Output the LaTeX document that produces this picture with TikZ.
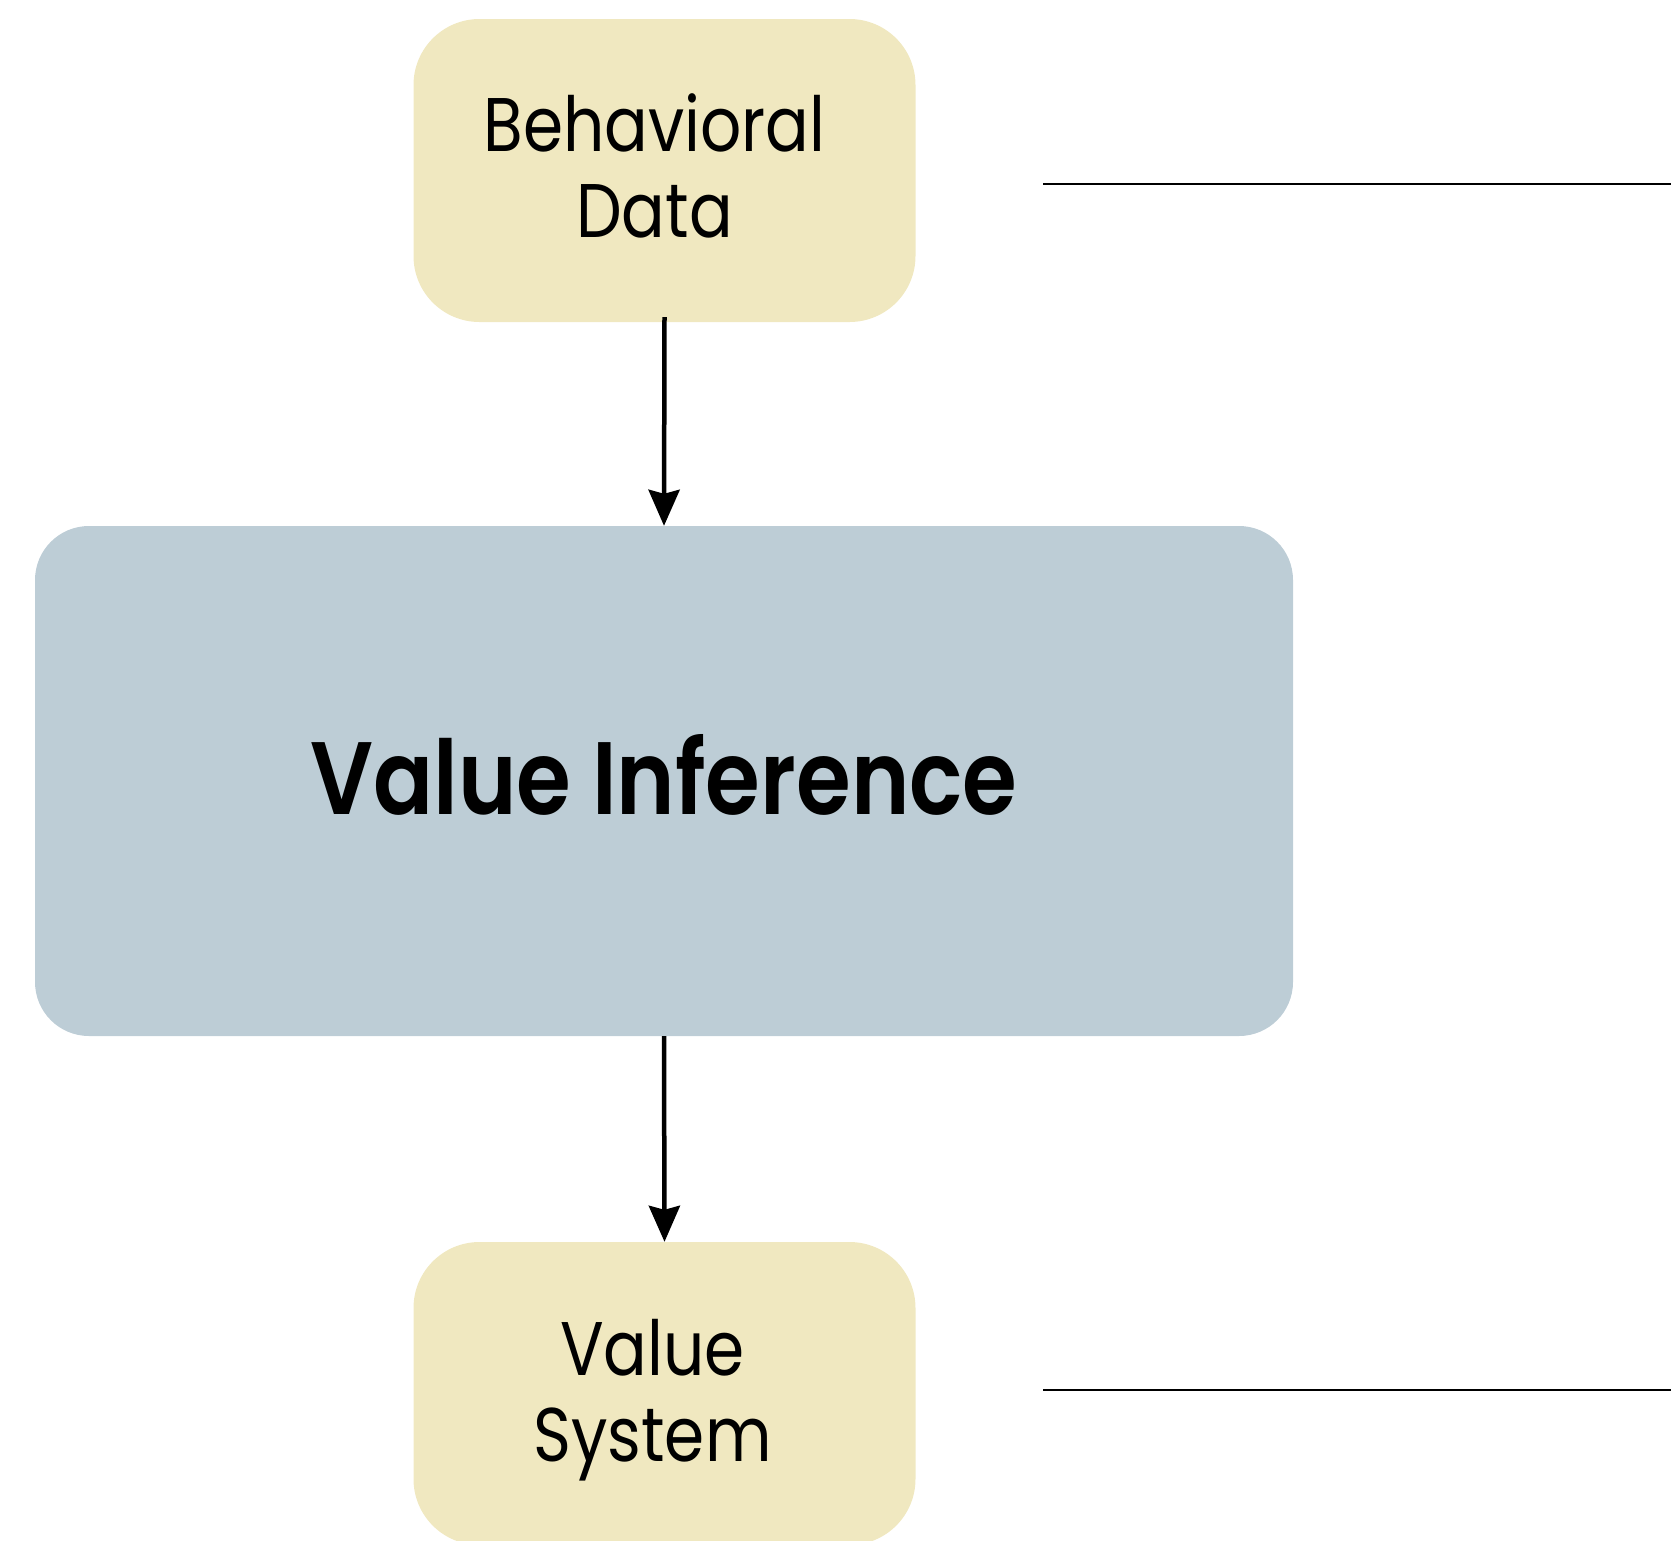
\documentclass[tikz,border=0pt]{standalone}
\usepackage{fontspec}
\setmainfont{Poppins}
\newfontfamily\boxfont[FakeStretch=0.85]{Poppins}
\newfontfamily\boldfont[FakeStretch=0.86]{Poppins SemiBold}
\usetikzlibrary{arrows.meta}
\definecolor{beige}{RGB}{240,232,192}
\definecolor{slate}{RGB}{189,205,214}
\tikzset{
  smallbox/.style={fill=beige, draw=none, rounded corners=66pt, minimum width=502pt, minimum height=303pt, inner sep=0pt},
  bigbox/.style={fill=slate, draw=none, rounded corners=54pt, minimum width=1258pt, minimum height=510pt, inner sep=0pt},
  boxtext/.style={inner sep=0pt, align=center, font=\boxfont\fontsize{76}{86}\selectfont},
  bigtext/.style={inner sep=0pt, align=center, font=\boldfont\fontsize{103}{120}\selectfont},
  flow/.style={line width=4.5pt, -{Stealth[length=36pt,width=31pt,inset=4pt]}},
  rule/.style={line width=2.8pt}
}
\begin{document}
\begin{tikzpicture}[x=1pt,y=-1pt]
\useasboundingbox (0,0) rectangle (1671,1540);
\node[smallbox] (bd) at (664.5,170.5) {};
\node[bigbox] (vi) at (664,781) {};
\node[smallbox] (vs) at (664.5,1393.5) {};
\node[boxtext] (bdt) at ([xshift=-10pt,yshift=5pt]bd.center) {Behavioral\\Data};
\node[bigtext] (vit) at ([yshift=6pt]vi.center) {Value Inference};
\node[boxtext] (vst) at ([xshift=-12pt,yshift=-7pt]vs.center) {Value\\System};
\draw[flow] ([yshift=5pt]bd.south) -- (vi.north);
\draw[flow] (vi.south) -- (vs.north);
\coordinate (t1) at (1043,184);
\coordinate (t2) at (1671,184);
\coordinate (b1) at (1043,1390);
\coordinate (b2) at (1671,1390);
\draw[rule] (t1) -- (t2);
\draw[rule] (b1) -- (b2);
\end{tikzpicture}
\end{document}
